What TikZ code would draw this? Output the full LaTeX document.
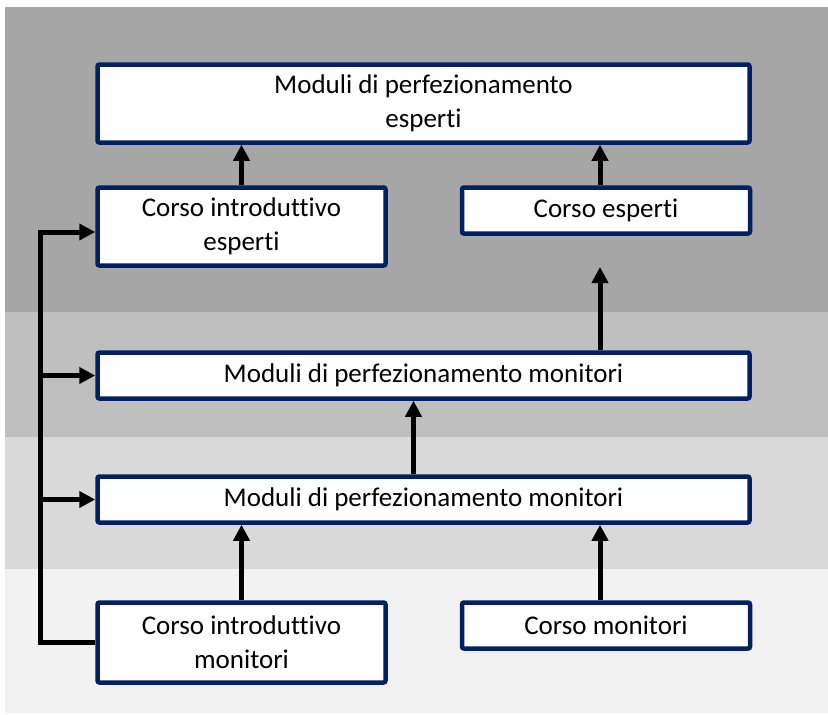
\documentclass[tikz,border=0pt]{standalone}
\usepackage{fontspec}
\setmainfont{Carlito}[Ligatures=CommonOff]
\usetikzlibrary{arrows.meta}
\definecolor{navy}{HTML}{002060}
\definecolor{bandA}{HTML}{A6A6A6}
\definecolor{bandB}{HTML}{BFBFBF}
\definecolor{bandC}{HTML}{D9D9D9}
\definecolor{bandD}{HTML}{F2F2F2}

\begin{document}
\begin{tikzpicture}[  x = 1pt,  y = -1pt,  > = {Triangle[length=16pt,width=16pt]},  line width = 5pt,  font = \fontsize{27}{34}\selectfont,
  box/.style = {draw=navy, fill=white, line width=4.5pt, rounded corners=2pt, align=center, inner sep=0pt},
  wide/.style = {box, minimum width=652pt},
  half/.style = {box, minimum width=288pt}]
  \useasboundingbox (0,0) rectangle (828,715);
  % Background bands
  \fill[bandA] (5,7) rectangle (828,312);
  \fill[bandB] (5,312) rectangle (828,437);
  \fill[bandC] (5,437) rectangle (828,569);
  \fill[bandD] (5,569) rectangle (828,713);

  % Define nodes
  \node (ME) [wide, minimum height=78pt] at (423.5,103.5) {Moduli di perfezionamento\\esperti};
  \node (CIE) [half, minimum height=78pt] at (241.5,226.5) {Corso introduttivo\\esperti};
  \node (CE) [half, minimum height=46pt] at (606,210.5) {Corso esperti};
  \node (MU) [wide, minimum height=46pt] at (423.5,375.5) {Moduli di perfezionamento monitori};
  \node (ML) [wide, minimum height=46pt] at (423.5,499.5) {Moduli di perfezionamento monitori};
  \node (CIM) [half, minimum height=80pt] at (241.5,642.5) {Corso introduttivo\\monitori};
  \node (CM) [half, minimum height=46pt] at (606,625.5) {Corso monitori};
  \coordinate (tip) at (600,267);
  \coordinate (spine) at (40,232);

  % Draw arrows
  \draw[->] (CIE.north) -- (CIE.north |- ME.south);
  \draw[->] ([xshift=-6pt]CE.north) -- ([xshift=-6pt]CE.north |- ME.south);
  \draw[->] (MU.north -| tip) -- (tip);
  \draw[->] ([xshift=-10pt]ML.north) -- ([xshift=-10pt]ML.north |- MU.south);
  \draw[->] (CIM.north) -- (CIM.north |- ML.south);
  \draw[->] ([xshift=-6pt]CM.north) -- ([xshift=-6pt]CM.north |- ML.south);
  \draw[->] (CIM.west) -- (CIM.west -| spine) -- (spine) -- (spine -| CIE.west);
  \draw[->] (spine |- MU.west) -- (MU.west);
  \draw[->] (spine |- ML.west) -- (ML.west);
\end{tikzpicture}
\end{document}
